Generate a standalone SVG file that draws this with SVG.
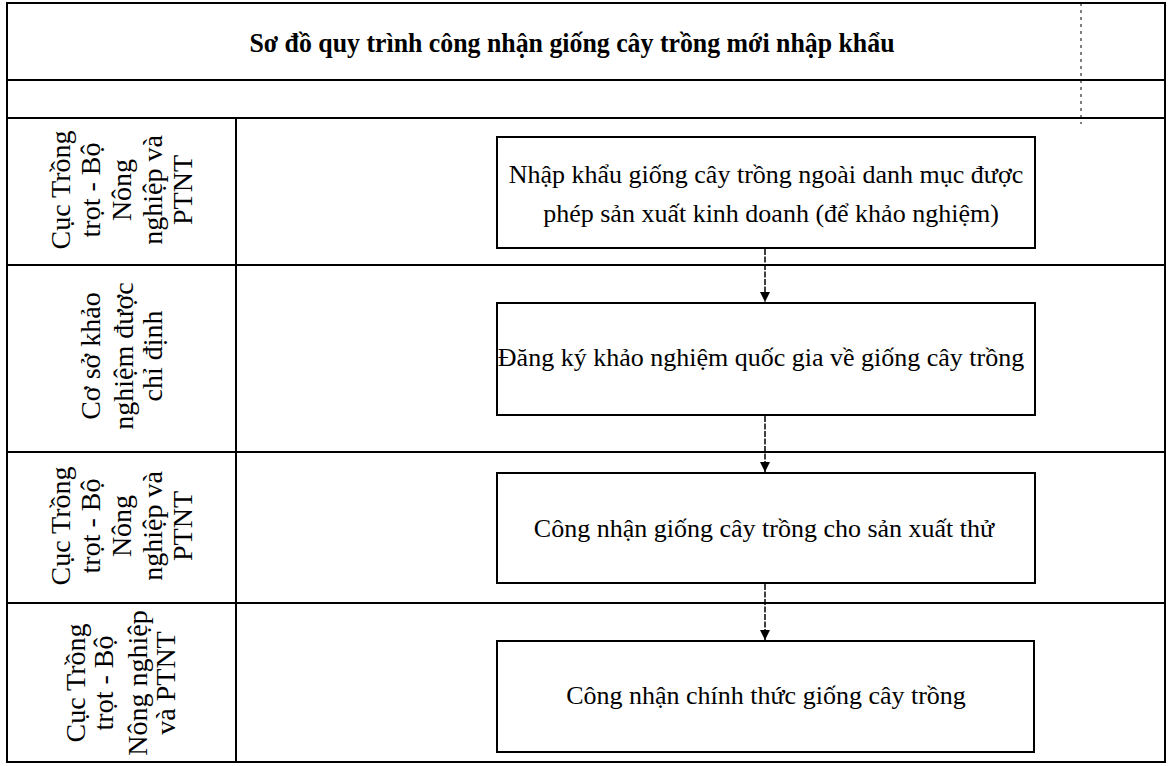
<svg xmlns="http://www.w3.org/2000/svg" width="1170" height="766" viewBox="0 0 1170 766">
<style>
.grid{stroke:#000;stroke-width:2;fill:none}
.box rect{fill:#fff;stroke:#000;stroke-width:2}
.t{font-family:"Liberation Serif","DejaVu Serif",serif;font-size:26px;fill:#000;text-anchor:middle}
.lane text{font-family:"Liberation Serif","DejaVu Serif",serif;font-size:28px;fill:#000;text-anchor:middle}
.title{font-family:"Liberation Serif","DejaVu Serif",serif;font-size:27px;font-weight:bold;fill:#000;text-anchor:middle}
.conn line{stroke:#000;stroke-width:1.5;stroke-dasharray:6 1.5}
</style>
<defs>
<marker id="ah" viewBox="0 0 10 10" refX="10" refY="5" markerWidth="10" markerHeight="10" markerUnits="userSpaceOnUse" orient="auto">
<path d="M0,0 L10,5 L0,10 z" fill="#000"/>
</marker>
</defs>
<rect width="1170" height="766" fill="#fff"/>
<g id="table">
<rect x="7" y="3" width="1158" height="759" fill="#fff" class="grid"/>
<line class="grid" x1="7" y1="80" x2="1165" y2="80"/>
<line class="grid" x1="7" y1="118" x2="1165" y2="118"/>
<line class="grid" x1="7" y1="265" x2="1165" y2="265"/>
<line class="grid" x1="7" y1="452" x2="1165" y2="452"/>
<line class="grid" x1="7" y1="603" x2="1165" y2="603"/>
<line class="grid" x1="236" y1="118" x2="236" y2="762"/>
<line x1="1081" y1="3" x2="1081" y2="124" stroke="#000" stroke-width="1" stroke-dasharray="3 4"/>
</g>
<g id="title">
<text class="title" x="572" y="52" textLength="645" lengthAdjust="spacingAndGlyphs">Sơ đồ quy trình công nhận giống cây trồng mới nhập khẩu</text>
</g>
<g id="lane1" class="lane">
<text transform="translate(121,190) rotate(-90)"><tspan x="0" y="-51">Cục Trồng</tspan><tspan x="0" y="-21">trọt - Bộ</tspan><tspan x="0" y="10">Nông</tspan><tspan x="0" y="41">nghiệp và</tspan><tspan x="0" y="71">PTNT</tspan></text>
</g>
<g id="lane2" class="lane">
<text transform="translate(121,356) rotate(-90)"><tspan x="0" y="-21">Cơ sở khảo</tspan><tspan x="0" y="12">nghiệm được</tspan><tspan x="0" y="41">chỉ định</tspan></text>
</g>
<g id="lane3" class="lane">
<text transform="translate(121,526) rotate(-90)"><tspan x="0" y="-51">Cục Trồng</tspan><tspan x="0" y="-21">trọt - Bộ</tspan><tspan x="0" y="10">Nông</tspan><tspan x="0" y="41">nghiệp và</tspan><tspan x="0" y="71">PTNT</tspan></text>
</g>
<g id="lane4" class="lane">
<text transform="translate(121,683) rotate(-90)"><tspan x="0" y="-36">Cục Trồng</tspan><tspan x="0" y="-8">trọt - Bộ</tspan><tspan x="0" y="26">Nông nghiệp</tspan><tspan x="0" y="54">và PTNT</tspan></text>
</g>
<g id="node1" class="box">
<rect x="497" y="137" width="538" height="111"/>
<text class="t" x="766" y="183">Nhập khẩu giống cây trồng ngoài danh mục được</text>
<text class="t" x="771" y="222">phép sản xuất kinh doanh (để khảo nghiệm)</text>
</g>
<g id="node2" class="box">
<rect x="497" y="303" width="538" height="112"/>
<text class="t" x="761" y="366">Đăng ký khảo nghiệm quốc gia về giống cây trồng</text>
</g>
<g id="node3" class="box">
<rect x="497" y="473" width="538" height="110"/>
<text class="t" x="764" y="537">Công nhận giống cây trồng cho sản xuất thử</text>
</g>
<g id="node4" class="box">
<rect x="497" y="641" width="537" height="111"/>
<text class="t" x="766" y="704">Công nhận chính thức giống cây trồng</text>
</g>
<g id="connectors" class="conn">
<line x1="765" y1="249" x2="765" y2="302" marker-end="url(#ah)"/>
<line x1="765" y1="416" x2="765" y2="472" marker-end="url(#ah)"/>
<line x1="765" y1="584" x2="765" y2="640" marker-end="url(#ah)"/>
</g>
</svg>
